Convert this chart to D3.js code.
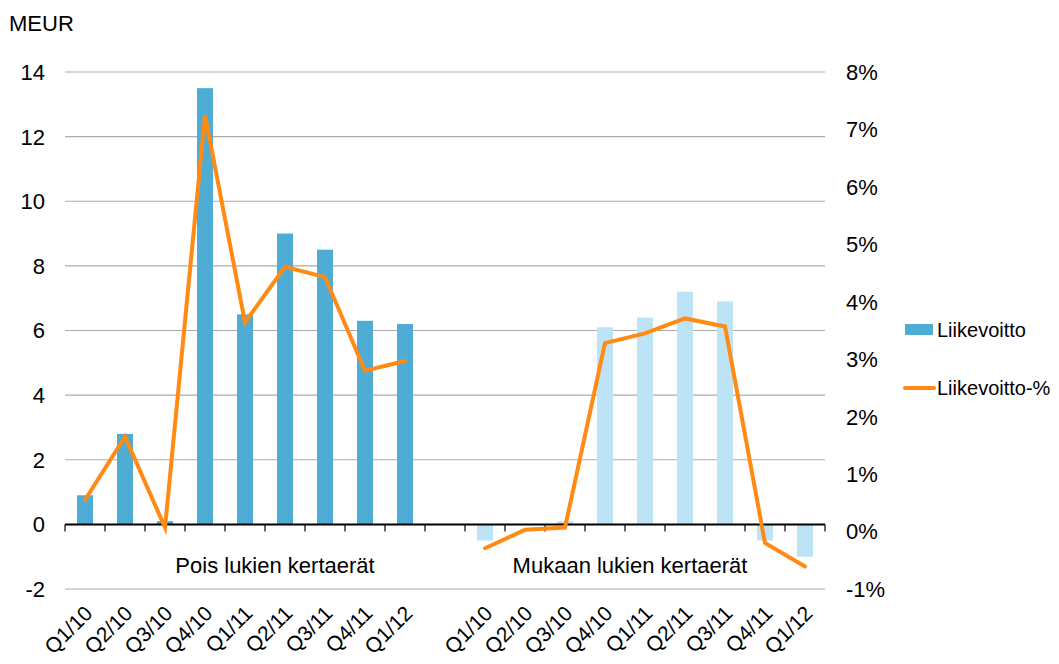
<!DOCTYPE html>
<html><head><meta charset="utf-8">
<script src="https://cdn.jsdelivr.net/npm/d3@7"></script>
<style>
body{margin:0;background:#fff;}
text{font-family:"Liberation Sans",Arial,sans-serif;fill:#000;}
</style></head>
<body><svg id="c" width="1059" height="664"></svg>
<script>
const quarters = ["Q1/10","Q2/10","Q3/10","Q4/10","Q1/11","Q2/11","Q3/11","Q4/11","Q1/12"];
const groupLabels = ["Pois lukien kertaerät","Mukaan lukien kertaerät"];
const barsExcl = [0.9, 2.8, 0.1, 13.5, 6.5, 9.0, 8.5, 6.3, 6.2];
const barsIncl = [-0.5, 0, 0.1, 6.1, 6.4, 7.2, 6.9, -0.5, -1.0];
const pctExcl = [0.55, 1.65, 0.07, 7.25, 3.64, 4.61, 4.43, 2.80, 2.97];
const pctIncl = [-0.29, 0.03, 0.07, 3.28, 3.45, 3.71, 3.57, -0.20, -0.61];
const leftTicks = [-2,0,2,4,6,8,10,12,14];
const rightTicks = [-1,0,1,2,3,4,5,6,7,8];
const legendLabels = ["Liikevoitto","Liikevoitto-%"];

const colExcl = "#4FACD4", colIncl = "#BDE3F6", colLine = "#FF8A14";

const slots = [];
quarters.forEach((q,i)=>slots.push({key:"a"+i, label:q, bar:barsExcl[i], pct:pctExcl[i], g:0}));
slots.push({key:"gap", label:"", bar:null, pct:null, g:-1});
quarters.forEach((q,i)=>slots.push({key:"b"+i, label:q, bar:barsIncl[i], pct:pctIncl[i], g:1}));

const L=65, R=825, T=72, B=589;
const FS = "22px";
const svg = d3.select("#c");
const x = d3.scaleBand().domain(slots.map(d=>d.key)).range([L,R]).paddingInner(0).paddingOuter(0);
const yL = d3.scaleLinear().domain([-2,14]).range([B,T]);
const yR = d3.scaleLinear().domain([-1,8]).range([B,T]);

svg.append("g").selectAll("line").data(leftTicks.filter(v=>v!==0)).join("line")
  .attr("x1",L).attr("x2",R).attr("y1",d=>yL(d)).attr("y2",d=>yL(d))
  .attr("stroke","#ababab").attr("stroke-width",1.2);

svg.append("g").selectAll("text").data(leftTicks).join("text")
  .attr("x",45).attr("y",d=>yL(d)).attr("dy","0.36em").attr("text-anchor","end")
  .style("font-size",FS).text(d=>d);
svg.append("g").selectAll("text").data(rightTicks).join("text")
  .attr("x",846).attr("y",d=>yR(d)).attr("dy","0.36em").attr("text-anchor","start")
  .style("font-size",FS).text(d=>d+"%");

svg.append("text").attr("x",9).attr("y",31).style("font-size",FS).text("MEUR");

const bw = x.bandwidth()*0.4;
svg.append("g").selectAll("rect").data(slots.filter(d=>d.bar!==null && d.bar!==0)).join("rect")
  .attr("x",d=>x(d.key)+x.bandwidth()/2-bw/2).attr("width",bw)
  .attr("y",d=>yL(Math.max(0,d.bar))).attr("height",d=>Math.abs(yL(d.bar)-yL(0)))
  .attr("fill",d=>d.g===0?colExcl:colIncl);

const ax = svg.append("g");
ax.append("line").attr("x1",L).attr("x2",R).attr("y1",yL(0)).attr("y2",yL(0)).attr("stroke","#000").attr("stroke-width",2);
const bounds = slots.map(d=>x(d.key)).concat([R]);
ax.selectAll("line.t").data(bounds).join("line").attr("class","t")
  .attr("x1",d=>d).attr("x2",d=>d).attr("y1",yL(0)).attr("y2",yL(0)+7).attr("stroke","#000").attr("stroke-width",1.2);

const line = d3.line().defined(d=>d.pct!==null).x(d=>x(d.key)+x.bandwidth()/2).y(d=>yR(d.pct));
svg.append("path").datum(slots).attr("d",line).attr("fill","none")
  .attr("stroke",colLine).attr("stroke-width",4).attr("stroke-linejoin","miter").attr("stroke-linecap","round");

svg.append("g").selectAll("text").data(slots.filter(d=>d.label)).join("text")
  .attr("transform",d=>`translate(${x(d.key)+x.bandwidth()/2-2},${604}) rotate(-45)`)
  .attr("text-anchor","end").attr("dy","0.72em").style("font-size","21px").text(d=>d.label);

svg.append("text").attr("x",275).attr("y",573).attr("text-anchor","middle").style("font-size",FS).text(groupLabels[0]);
svg.append("text").attr("x",630).attr("y",573).attr("text-anchor","middle").style("font-size",FS).text(groupLabels[1]);

const lg = svg.append("g");
lg.append("rect").attr("x",905).attr("y",324).attr("width",28).attr("height",11).attr("fill",colExcl);
lg.append("text").attr("x",937).attr("y",330).attr("dy","0.36em").style("font-size","20px").text(legendLabels[0]);
lg.append("line").attr("x1",905).attr("x2",934).attr("y1",388).attr("y2",388).attr("stroke",colLine).attr("stroke-width",4).attr("stroke-linecap","round");
lg.append("text").attr("x",937).attr("y",388).attr("dy","0.36em").style("font-size","20px").text(legendLabels[1]);
</script></body></html>
